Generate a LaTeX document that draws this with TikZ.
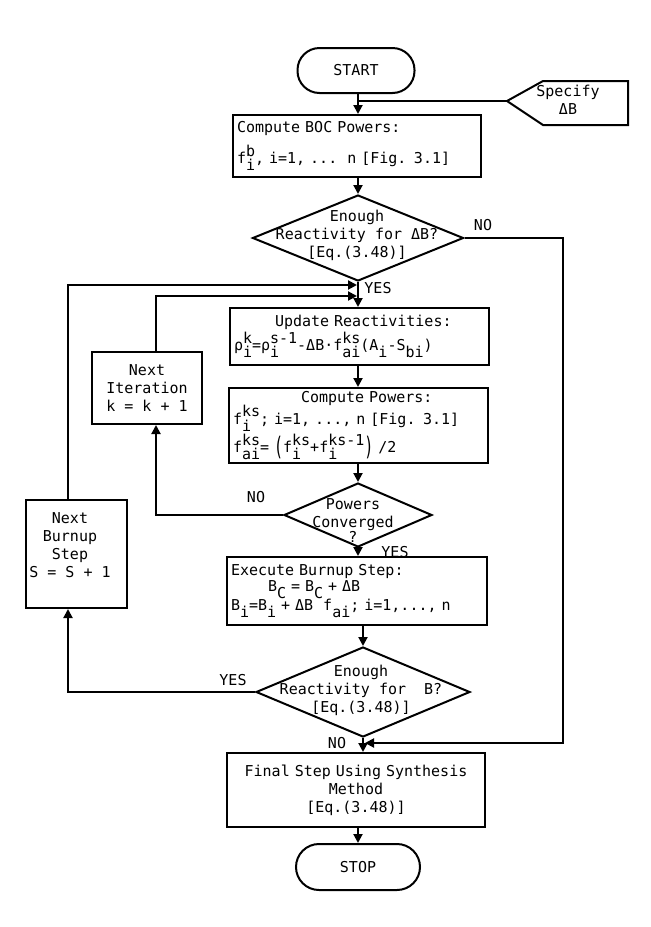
\documentclass[tikz,border=0pt]{standalone}
\usepackage{fontspec}
\setmainfont{DejaVu Sans Mono}
\usepackage{graphicx}
\usetikzlibrary{arrows.meta,shapes.geometric}
\newcommand\up[1]{\raisebox{0.5em}{#1}}
\newcommand\dn[1]{\raisebox{-0.45em}{#1}}
\newcommand\ud[2]{\rlap{\dn{#2}}\up{#1}}
\newcommand\bigpar[1]{\raisebox{-0.2em}{\scalebox{1}[1.7]{#1}}}
\begin{document}
\begin{tikzpicture}[x=1pt,y=-1pt,
  every node/.style={font=\fontsize{15}{18}\selectfont, inner sep=0pt},
  ln/.style={line width=2pt},
  arr/.style={line width=2pt,-{Triangle[length=9pt,width=9pt]}},
  box/.style={draw,line width=2pt,inner xsep=4pt,inner ysep=0pt,align=left},
  term/.style={draw,line width=2pt,rounded corners=22pt,minimum height=45pt},
  dec/.style={draw,diamond,line width=2pt,inner sep=0pt}]
\useasboundingbox (0,0) rectangle (651,927);
\coordinate (ax) at (358,0);
\coordinate (c1) at (68,0);
\coordinate (c2) at (156,0);

% start and specify
\node[term,minimum width=117pt] (start) at (356,70.5) {START};
\coordinate (j1) at (358,101);
\coordinate (spec) at (507,101);
\coordinate (s1) at (543,81);
\coordinate (s2) at (628,81);
\coordinate (s3) at (628,125);
\coordinate (s4) at (543,125);
\draw[ln,line join=miter] (spec) -- (s1) -- (s2) -- (s3) -- (s4) -- cycle;
\node[align=center] (spectxt) at (568,100) {Specify\\ΔB};

% boxes
\node[box,text width=240pt,minimum height=62pt] (boc) at (357,146)
  {Compute BOC Powers:\\[8pt]\mbox{f\ud{b}{i}, i=1, ...~~n [Fig. 3.1]}};
\node[dec,minimum width=211pt,minimum height=86pt] (d1) at (358,238) {};
\node[align=center] (d1t) at (357,235) {Enough\\Reactivity for ΔB?\\{}[Eq.(3.48)]};

\node[box,text width=251pt,minimum height=57pt] (upd) at (359.5,336.5)
  {\hspace*{41pt}Update Reactivities:\\[1pt]\mbox{ρ\ud{k}{i}=ρ\ud{s-1}{i}-ΔB·f\ud{ks}{ai}(A\dn{i}-S\dn{bi})}};
\node[box,text width=251pt,minimum height=75pt] (cmp) at (358.5,425.5)
  {\hspace*{68pt}Compute Powers:\\[-1pt]\mbox{f\ud{ks}{i}; i=1, ..., n [Fig. 3.1]}\\[2pt]\mbox{f\ud{ks}{ai}= \bigpar{(}f\ud{ks}{i}+f\ud{ks-1}{i}\bigpar{)} /2}};
\node[dec,minimum width=148pt,minimum height=64pt] (d3) at (358,515) {};
\node[align=center] (d3t) at (353,521) {Powers\\Converged\\[-3pt]?};

\node[box,text width=252pt,minimum height=68pt] (exe) at (357,591)
  {Execute Burnup Step:\\[-2pt]\hspace*{37pt}B\dn{C} = B\dn{C} + ΔB\\\mbox{B\dn{i}=B\dn{i} + ΔB~~f\dn{ai}; i=1,..., n}};
\node[dec,minimum width=214pt,minimum height=90pt] (d2) at (363,692) {};
\node[align=center] (d2t) at (361,690) {Enough\\Reactivity for~~B?\\{}[Eq.(3.48)]};

\node[box,align=center,text width=250pt,minimum height=74pt] (fin) at (356,790)
  {Final Step Using Synthesis\\Method\\{}[Eq.(3.48)]};
\node[term,minimum width=124pt,minimum height=46pt,rounded corners=23pt] (stop) at (358,867) {STOP};

% side boxes
\node[box,align=center,minimum width=110pt,minimum height=72pt] (ni) at (147,388) {Next\\Iteration\\k = k + 1};
\node[draw,ln,minimum width=101pt,minimum height=108pt] (nb) at (76.5,554) {};
\node[align=center] (nbt) at (70,545) {Next\\Burnup\\Step\\S = S + 1};

% junction coordinates
\coordinate (l1) at (357,285);
\coordinate (l2) at (357,296);
\coordinate (r1) at (563,238);
\coordinate (r2) at (563,743);
\coordinate (r3) at (365,743);

% connectors
\draw[arr] (start.south -| ax) -- (boc.north -| ax);
\draw[ln] (spec) -- (j1);
\draw[arr] (boc.south -| ax) -- (d1.north);
\draw[arr] (d1.east) -- (r1) -- (r2) -- (r3);
\draw[arr] (d1.south) -- (upd.north -| ax);
\draw[arr] (c1 |- nb.north) -- (c1 |- l1) -- (l1);
\draw[arr] (c2 |- ni.north) -- (c2 |- l2) -- (l2);
\draw[arr] (upd.south -| ax) -- (cmp.north -| ax);
\draw[arr] (cmp.south -| ax) -- (d3.north);
\draw[arr] (d3.west) -- (c2 |- d3.west) -- (c2 |- ni.south);
\draw[arr] (d3.south) -- (exe.north -| ax);
\draw[arr] (exe.south -| d2.north) -- (d2.north);
\draw[arr] (d2.west) -- (c1 |- d2.west) -- (c1 |- nb.south);
\draw[arr] (d2.south) -- (fin.north -| d2.south);
\draw[arr] (fin.south -| stop.north) -- (stop.north);

% labels
\node (no1) at (483,225) {NO};
\node (yes1) at (378,288) {YES};
\node (no3) at (256,497) {NO};
\node (yes3) at (395,552) {YES};
\node (yes2) at (233,680) {YES};
\node (no2) at (337,743) {NO};
\end{tikzpicture}
\end{document}
